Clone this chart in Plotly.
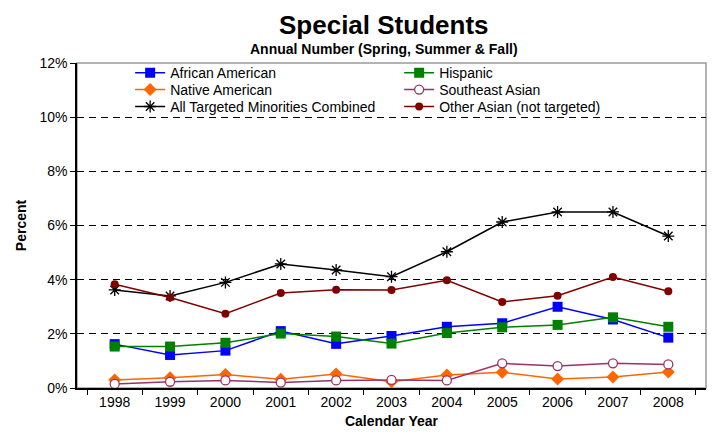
import plotly.graph_objects as go

years = ["1998", "1999", "2000", "2001", "2002", "2003", "2004", "2005", "2006", "2007", "2008"]
african_american = [1.62, 1.22, 1.38, 2.10, 1.63, 1.92, 2.26, 2.39, 3.00, 2.53, 1.86]
hispanic = [1.53, 1.53, 1.67, 2.01, 1.90, 1.64, 2.03, 2.24, 2.33, 2.61, 2.26]
native_american = [0.30, 0.38, 0.50, 0.32, 0.52, 0.23, 0.48, 0.58, 0.33, 0.41, 0.59]
southeast_asian = [0.15, 0.23, 0.28, 0.20, 0.28, 0.30, 0.28, 0.91, 0.81, 0.91, 0.87]
all_targeted = [3.62, 3.40, 3.90, 4.58, 4.36, 4.11, 5.03, 6.13, 6.50, 6.50, 5.61]
other_asian = [3.83, 3.34, 2.74, 3.51, 3.63, 3.62, 3.98, 3.18, 3.41, 4.10, 3.57]

FONT = "Arial, Liberation Sans, sans-serif"

series = [
    ("African American", african_american, "#0000FF", dict(symbol="square", size=10, color="#0000FF"), "legend"),
    ("Hispanic", hispanic, "#008000", dict(symbol="square", size=10, color="#008000"), "legend"),
    ("Native American", native_american, "#FF6600", dict(symbol="diamond", size=10, color="#FF6600"), "legend2"),
    ("Southeast Asian", southeast_asian, "#993366", dict(symbol="circle", size=9, color="white", line=dict(color="#993366", width=1.3)), "legend2"),
    ("All Targeted Minorities Combined", all_targeted, "#000000", dict(symbol="asterisk-open", size=10, color="#000000", line=dict(color="#000000", width=1.3)), "legend3"),
    ("Other Asian (not targeted)", other_asian, "#800000", dict(symbol="circle", size=8, color="#800000"), "legend3"),
]

fig = go.Figure()
for name, vals, col, mk, lg in series:
    fig.add_trace(go.Scatter(x=years, y=vals, name=name, mode="lines+markers",
                             line=dict(color=col, width=1.5), marker=mk, legend=lg))

def row_legend(ypos):
    return dict(orientation="h", x=0.0845, y=ypos, xanchor="left", yanchor="middle",
                entrywidth=224, entrywidthmode="pixels", tracegroupgap=0,
                font=dict(family=FONT, size=14), bgcolor="rgba(0,0,0,0)",
                itemsizing="trace", borderwidth=0)

fig.update_layout(
    width=711, height=434,
    margin=dict(l=60, r=13, t=55, b=54),
    paper_bgcolor="white", plot_bgcolor="white",
    font=dict(family=FONT, size=14, color="black"),
    showlegend=True,
    legend=row_legend(0.969),
    legend2=row_legend(0.917),
    legend3=row_legend(0.865),
    xaxis=dict(type="category", tickson="boundaries", ticks="outside", ticklen=5,
               tickcolor="black", showline=True, linecolor="black", linewidth=1.5,
               mirror=False, showgrid=False, tickfont=dict(size=14),
               title=dict(text="<b>Calendar Year</b>", font=dict(size=14), standoff=8)),
    yaxis=dict(range=[0, 12], dtick=2, ticksuffix="%", ticks="outside", ticklen=5,
               tickcolor="black", showline=True, linecolor="black", linewidth=1.5,
               showgrid=True, gridcolor="black", griddash="7px,5px", gridwidth=1,
               zeroline=False, tickfont=dict(size=14),
               title=dict(text="<b>Percent</b>", font=dict(size=14), standoff=10)),
    shapes=[dict(type="rect", xref="paper", yref="paper", x0=0, x1=1, y0=0, y1=1,
                 line=dict(color="#9a9a9a", width=1.5), layer="below")],
    annotations=[
        dict(text="<b>Special Students</b>", xref="paper", yref="paper", x=0.4875, y=1.0,
             yshift=38, showarrow=False, font=dict(size=26, family=FONT), yanchor="middle"),
        dict(text="<b>Annual Number (Spring, Summer & Fall)</b>", xref="paper", yref="paper",
             x=0.4875, y=1.0, yshift=14, showarrow=False, font=dict(size=14, family=FONT), yanchor="middle"),
    ],
)

fig.write_html("out.html")
